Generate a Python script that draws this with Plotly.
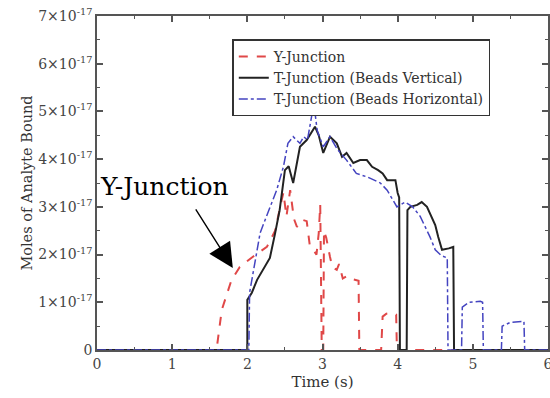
import plotly.graph_objects as go

# Time (s)
y_junction_t = [0, 1.59, 1.66, 1.79, 1.90, 2.07, 2.26, 2.37, 2.43, 2.48, 2.52, 2.57, 2.62, 2.66, 2.73, 2.79, 2.83, 2.92, 2.95, 2.97, 2.99, 3.01, 3.02, 3.05, 3.10, 3.13, 3.19, 3.22, 3.27, 3.33, 3.37, 3.48, 3.49, 3.78, 3.80, 3.85, 3.93, 3.98, 3.99, 6.0]
# Moles (units of 1e-17)
y_junction_v = [0, 0, 0.84, 1.47, 1.74, 1.95, 2.16, 2.5, 2.95, 3.3, 2.8, 3.35, 2.75, 2.58, 2.73, 2.7, 2.2, 2.0, 2.45, 3.05, 0, 0, 2.5, 2.35, 1.95, 1.74, 1.68, 1.8, 1.5, 1.55, 1.5, 1.45, 0, 0, 0.7, 0.76, 0.78, 0.74, 0, 0]

t_vertical_t = [0, 2.0, 2.0, 2.06, 2.13, 2.23, 2.3, 2.37, 2.43, 2.5, 2.55, 2.61, 2.7, 2.79, 2.85, 2.9, 2.95, 3.01, 3.1, 3.19, 3.26, 3.32, 3.41, 3.5, 3.59, 3.66, 3.74, 3.8, 3.86, 3.97, 4.0, 4.02, 4.03, 4.12, 4.13, 4.17, 4.26, 4.32, 4.39, 4.43, 4.5, 4.54, 4.59, 4.68, 4.74, 4.75, 6.0]
t_vertical_v = [0, 0, 1.05, 1.2, 1.47, 1.74, 1.93, 2.45, 2.93, 3.77, 3.85, 3.5, 4.26, 4.4, 4.55, 4.68, 4.5, 4.13, 4.47, 4.33, 4.05, 4.13, 3.92, 3.98, 3.98, 3.84, 3.77, 3.7, 3.56, 3.56, 3.29, 3.2, 0, 0, 2.93, 3.0, 3.04, 3.1, 3.0, 2.87, 2.62, 2.37, 2.1, 2.13, 2.16, 0, 0]

t_horizontal_t = [0, 2.02, 2.03, 2.1, 2.17, 2.23, 2.3, 2.39, 2.48, 2.54, 2.61, 2.7, 2.75, 2.8, 2.87, 2.89, 2.93, 3.01, 3.1, 3.2, 3.32, 3.45, 3.59, 3.77, 3.86, 3.94, 3.99, 4.1, 4.2, 4.3, 4.43, 4.5, 4.58, 4.66, 4.67, 4.85, 4.86, 4.95, 5.1, 5.13, 5.14, 5.38, 5.39, 5.5, 5.68, 5.69, 6.0]
t_horizontal_v = [0, 0, 1.2, 1.8, 2.45, 2.7, 3.0, 3.35, 3.84, 4.33, 4.47, 4.33, 4.47, 4.4, 5.03, 5.1, 4.6, 4.26, 4.47, 4.2, 3.98, 3.7, 3.63, 3.5, 3.35, 3.14, 3.0, 3.1, 3.0, 2.8, 2.37, 2.1, 1.98, 1.93, 0, 0, 0.9, 1.0, 1.02, 1.0, 0, 0, 0.5, 0.58, 0.6, 0, 0]

x_ticks = [0, 1, 2, 3, 4, 5, 6]
y_ticks = [0, 1, 2, 3, 4, 5, 6, 7]
y_tick_labels = ["0"] + [f"{k}×10<sup>-17</sup>" for k in y_ticks[1:]]

SCALE = 1e-17
FONT = "DejaVu Serif, Liberation Serif, serif"

fig = go.Figure()
fig.add_trace(go.Scatter(x=y_junction_t, y=[v * SCALE for v in y_junction_v], mode="lines",
                         name="Y-Junction", line=dict(color="#e04848", width=2, dash="dash")))
fig.add_trace(go.Scatter(x=t_vertical_t, y=[v * SCALE for v in t_vertical_v], mode="lines",
                         name="T-Junction (Beads Vertical)", line=dict(color="#222222", width=2)))
fig.add_trace(go.Scatter(x=t_horizontal_t, y=[v * SCALE for v in t_horizontal_v], mode="lines",
                         name="T-Junction (Beads Horizontal)", line=dict(color="#4444c0", width=1.5, dash="dashdot")))

axis_common = dict(showline=True, linecolor="#555555", linewidth=1.5, mirror="allticks",
                   ticks="inside", ticklen=6, tickwidth=1.5, tickcolor="#555555",
                   showgrid=False, zeroline=False, automargin=False, ticklabeloverflow="allow",
                   tickfont=dict(family=FONT, size=14, color="#444444"))

fig.update_xaxes(range=[0, 6.0001], tickvals=x_ticks, ticktext=[str(v) for v in x_ticks],
                 minor=dict(dtick=0.5, ticks="inside", ticklen=3, tickcolor="#555555", tickwidth=1.2),
                 title=dict(text="Time (s)", font=dict(family=FONT, size=15, color="#333333"), standoff=6),
                 **axis_common)
fig.update_yaxes(range=[0, 7 * SCALE], tickvals=[v * SCALE for v in y_ticks], ticktext=y_tick_labels,
                 minor=dict(dtick=0.5 * SCALE, ticks="inside", ticklen=3, tickcolor="#555555", tickwidth=1.2),
                 title=dict(text="Moles of Analyte Bound", font=dict(family=FONT, size=14.5, color="#333333"), standoff=2),
                 **axis_common)

fig.add_annotation(x=1.807, y=1.72 * SCALE, ax=-38, ay=-60, showarrow=True, arrowhead=2,
                   arrowsize=3.5, arrowwidth=1.4, arrowcolor="black", text="")
fig.add_annotation(x=0.9, y=3.42 * SCALE, text="Y-Junction", showarrow=False,
                   font=dict(family=FONT, size=25, color="black"))

fig.update_layout(
    width=550, height=398,
    margin=dict(l=97, r=2, t=16, b=48),
    paper_bgcolor="white", plot_bgcolor="white",
    legend=dict(x=0.3, y=0.93, xanchor="left", yanchor="top",
                bordercolor="#333333", borderwidth=1.5, bgcolor="white",
                font=dict(family=FONT, size=14, color="#333333"),
                tracegroupgap=0, itemwidth=30),
    showlegend=True,
)

fig.write_html("out.html", config={"displayModeBar": False},
               post_script="document.body.style.margin='0';document.body.style.padding='0';")
